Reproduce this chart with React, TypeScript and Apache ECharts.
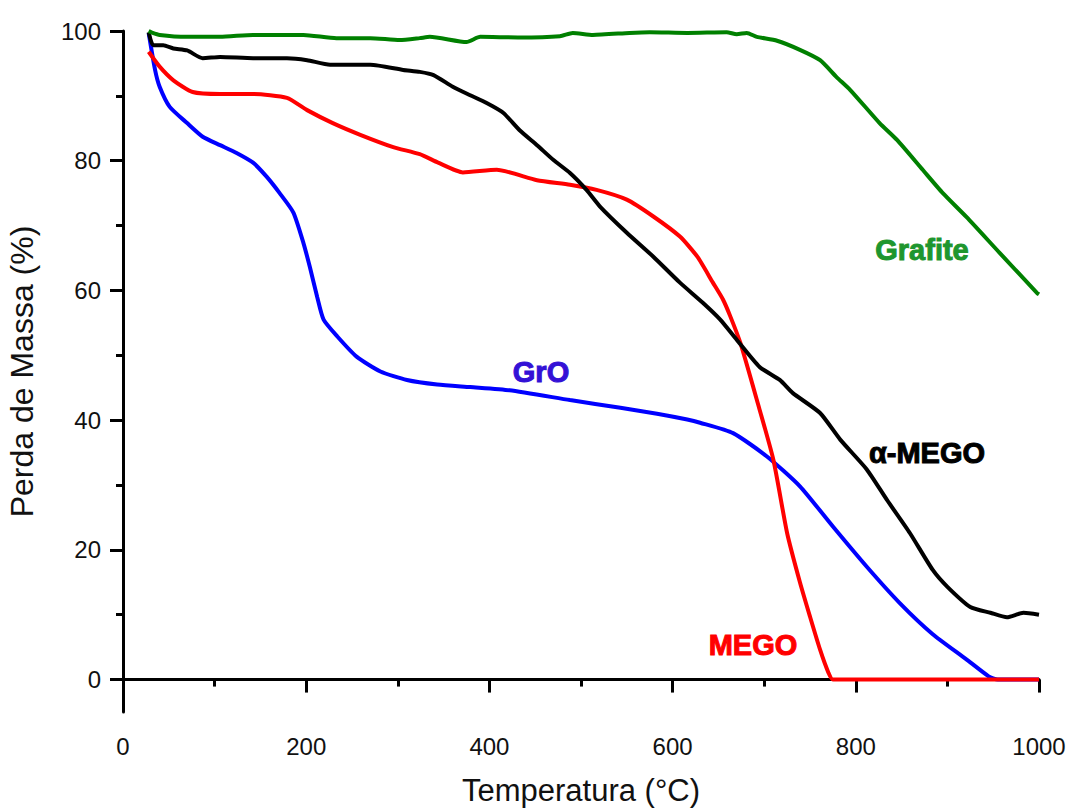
import React, { useEffect, useRef } from "react";
import * as echarts from "echarts";

// Temperature (°C) and mass (%)
const grafiteT = [28, 31, 40, 70, 106, 142, 179, 197, 233, 270, 302, 324, 335, 375, 390, 433, 477, 491, 513, 553, 575, 616, 659, 670, 681, 692, 714, 739, 761, 779, 794, 826, 845, 873, 895, 921, 957, 998, 1000];
const grafiteV = [100, 99.8, 99.4, 99.1, 99.1, 99.4, 99.4, 99.4, 98.9, 98.9, 98.6, 98.9, 99.1, 98.3, 99.1, 99.0, 99.2, 99.7, 99.4, 99.7, 99.8, 99.7, 99.8, 99.5, 99.7, 99.1, 98.5, 97.1, 95.5, 92.9, 90.9, 85.8, 83.2, 78.6, 75.0, 71.3, 65.8, 59.6, 59.4];

const groT = [28, 35, 40, 51, 70, 87, 106, 124, 142, 157, 171, 186, 197, 204, 212, 219, 234, 255, 281, 310, 343, 379, 422, 488, 543, 583, 616, 630, 666, 703, 739, 775, 812, 848, 884, 920, 945, 955, 1000];
const groV = [99.7, 94, 91.4, 88.3, 85.8, 83.7, 82.4, 81.2, 79.7, 77.5, 75.0, 72, 67.3, 63.6, 59.0, 55.5, 52.9, 49.8, 47.5, 46.2, 45.5, 45.1, 44.6, 43.1, 41.9, 41.0, 40.1, 39.6, 38.0, 34.4, 29.8, 23.6, 17.4, 11.8, 7.0, 3.2, 0.5, 0, 0];

const megoT = [28, 40, 55, 76, 106, 142, 179, 201, 229, 259, 295, 324, 344, 371, 408, 452, 488, 517, 550, 579, 608, 627, 644, 655, 663, 674, 692, 710, 725, 739, 750, 761, 770, 775, 1000];
const megoV = [96.8, 94.5, 92.4, 90.6, 90.3, 90.3, 89.7, 87.8, 85.8, 84.0, 82.1, 81.0, 79.7, 78.2, 78.6, 77.0, 76.3, 75.5, 74.0, 71.4, 68.3, 65.2, 61.2, 58.6, 56.0, 51.9, 43.1, 33.9, 22.6, 15.0, 9.7, 4.6, 1.1, 0, 0];

const alphaT = [28, 33, 44, 55, 70, 87, 106, 142, 179, 201, 226, 270, 306, 324, 339, 360, 379, 397, 415, 433, 452, 470, 488, 506, 521, 550, 579, 608, 633, 652, 670, 695, 717, 731, 761, 783, 812, 834, 859, 884, 900, 925, 947, 965, 983, 1000];
const alphaV = [99.8, 97.8, 97.8, 97.3, 97.0, 95.8, 96.0, 95.8, 95.8, 95.5, 94.8, 94.8, 94.0, 93.7, 93.2, 91.4, 90.1, 88.9, 87.4, 84.7, 82.4, 80.1, 78.1, 75.5, 72.9, 68.9, 65.2, 61.2, 58.1, 55.5, 52.4, 48.2, 46.2, 44.2, 41.1, 37.0, 32.4, 27.7, 22.6, 16.9, 14.3, 11.2, 10.3, 9.6, 10.3, 10.0];

const yMajorTicks = [0, 20, 40, 60, 80, 100];
const yMinorTicks = [10, 30, 50, 70, 90];

const zip = (t: number[], v: number[]) => t.map((x, i) => [x, v[i]]);

const FONT = "'Liberation Sans', Arial, sans-serif";

export default function App() {
  const ref = useRef<HTMLDivElement>(null);
  useEffect(() => {
    if (!ref.current) return;
    const chart = echarts.init(ref.current, null, { renderer: "svg" });
    const lineSeries = (name: string, data: number[][], color: string) => ({
      name,
      type: "line",
      data,
      showSymbol: false,
      symbol: "none",
      smooth: 0.2,
      lineStyle: { color, width: 4 },
      xAxisIndex: 0,
      yAxisIndex: 0,
    });
    const labelText = (text: string, x: number, y: number, fill: string) => ({
      type: "text",
      x,
      y,
      style: {
        text,
        fill,
        stroke: fill,
        lineWidth: 1,
        font: `bold 29px ${FONT}`,
        textAlign: "center",
        textVerticalAlign: "middle",
      },
    });
    chart.setOption({
      animation: false,
      backgroundColor: "#ffffff",
      grid: {
        left: 123,
        right: 32,
        top: 31,
        bottom: 98,
        containLabel: false,
        outerBoundsMode: "none",
      },
      xAxis: {
        type: "value",
        min: 0,
        max: 1000,
        interval: 200,
        name: "Temperatura (°C)",
        nameLocation: "middle",
        nameGap: 63,
        nameTextStyle: { fontFamily: FONT, fontSize: 31, color: "#111" },
        axisLine: { show: true, lineStyle: { color: "#000", width: 3 } },
        axisTick: { show: true, inside: false, length: 13, lineStyle: { color: "#000", width: 3 } },
        minorTick: { show: true, splitNumber: 2, length: 7, lineStyle: { color: "#000", width: 3 } },
        axisLabel: {
          fontFamily: FONT,
          fontSize: 24,
          color: "#111",
          margin: 22,
          formatter: (v: number) => String(v),
        },
        splitLine: { show: false },
      },
      yAxis: [
        {
          type: "value",
          min: -5,
          max: 100,
          position: "left",
          name: "Perda de Massa (%)",
          nameLocation: "middle",
          nameGap: 85,
          nameTextStyle: { fontFamily: FONT, fontSize: 32, color: "#111" },
          axisLine: { show: true, lineStyle: { color: "#000", width: 3 } },
          axisTick: {
            show: true,
            inside: false,
            length: 13,
            customValues: yMajorTicks,
            lineStyle: { color: "#000", width: 3 },
          },
          axisLabel: {
            fontFamily: FONT,
            fontSize: 24,
            color: "#111",
            margin: 22,
            customValues: yMajorTicks,
          },
          splitLine: { show: false },
        },
        {
          type: "value",
          min: -5,
          max: 100,
          position: "left",
          axisLine: { show: false },
          axisTick: {
            show: true,
            inside: false,
            length: 7,
            customValues: yMinorTicks,
            lineStyle: { color: "#000", width: 3 },
          },
          axisLabel: { show: false, customValues: yMinorTicks },
          splitLine: { show: false },
        },
      ],
      series: [
        lineSeries("GrO", zip(groT, groV), "#0000ff"),
        lineSeries("MEGO", zip(megoT, megoV), "#ff0000"),
        lineSeries("α-MEGO", zip(alphaT, alphaV), "#000000"),
        lineSeries("Grafite", zip(grafiteT, grafiteV), "#008000"),
      ],
      graphic: [
        labelText("Grafite", 922, 250, "#1e962e"),
        labelText("GrO", 541, 372, "#3311d6"),
        labelText("α-MEGO", 927, 453, "#000000"),
        labelText("MEGO", 753, 645, "#ff0000"),
      ],
    });
    return () => chart.dispose();
  }, []);
  return (
    <div
      ref={ref}
      style={{ position: "fixed", left: 0, top: 0, width: 1071, height: 810, background: "#fff" }}
    />
  );
}
